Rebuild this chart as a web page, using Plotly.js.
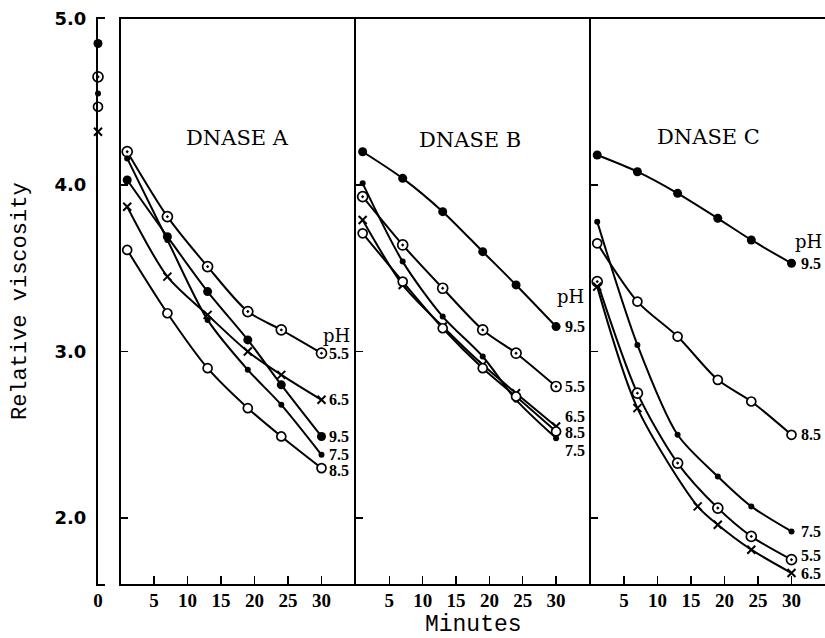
<!DOCTYPE html>
<html>
<head>
<meta charset="utf-8">
<script src="https://cdn.plot.ly/plotly-3.0.1.min.js"></script>
<style>html,body{margin:0;padding:0;background:#fff;}#chart{width:825px;height:638px;}</style>
</head>
<body>
<div id="chart"></div>
<script>
// ---------- data ----------
const phLevels = ['5.5', '6.5', '7.5', '8.5', '9.5'];
const times = [1, 7, 13, 19, 24, 30];
const timesC65 = [1, 7, 16, 19, 24, 30];

// viscosity at time 0 (left axis)
const start55 = 4.65;
const start65 = 4.32;
const start75 = 4.55;
const start85 = 4.47;
const start95 = 4.85;

// DNASE A
const a55 = [4.20, 3.81, 3.51, 3.24, 3.13, 2.99];
const a65 = [3.87, 3.45, 3.22, 3.00, 2.86, 2.71];
const a75 = [4.16, 3.67, 3.19, 2.89, 2.68, 2.38];
const a85 = [3.61, 3.23, 2.90, 2.66, 2.49, 2.30];
const a95 = [4.03, 3.69, 3.36, 3.07, 2.80, 2.49];

// DNASE B
const b55 = [3.93, 3.64, 3.38, 3.13, 2.99, 2.79];
const b65 = [3.79, 3.40, 3.15, 2.92, 2.75, 2.55];
const b75 = [4.01, 3.54, 3.21, 2.97, 2.71, 2.48];
const b85 = [3.71, 3.42, 3.14, 2.90, 2.73, 2.52];
const b95 = [4.20, 4.04, 3.84, 3.60, 3.40, 3.15];

// DNASE C
const c55 = [3.42, 2.75, 2.33, 2.06, 1.89, 1.75];
const c65 = [3.39, 2.66, 2.07, 1.96, 1.81, 1.67];
const c75 = [3.78, 3.04, 2.50, 2.25, 2.07, 1.92];
const c85 = [3.65, 3.30, 3.09, 2.83, 2.70, 2.50];
const c95 = [4.18, 4.08, 3.95, 3.80, 3.67, 3.53];

const panelTitles = ['DNASE A', 'DNASE B', 'DNASE C'];
const xTicks = [5, 10, 15, 20, 25, 30];
const yTicks = [2, 3, 4, 5];
const yTickText = ['2.0', '3.0', '4.0', '5.0'];

// ---------- styles ----------
const markerStyle = {
  '5.5': {symbol: 'circle-dot', size: 10, color: '#fff', line: {color: '#000', width: 1.7}},
  '6.5': {symbol: 'x-thin', size: 8, color: '#000', line: {color: '#000', width: 2}},
  '7.5': {symbol: 'circle', size: 6, color: '#000', line: {color: '#000', width: 0}},
  '8.5': {symbol: 'circle', size: 9, color: '#fff', line: {color: '#000', width: 1.7}},
  '9.5': {symbol: 'circle', size: 9, color: '#000', line: {color: '#000', width: 0}}
};

const W = 825, H = 638;
const px = v => v / W;
const py = v => 1 - v / H;
const yDomain = [py(584), py(18.5)];
const yRange = [1.604, 5.0];

const panels = [
  {xa: 'x2', ya: 'y2', dom: [px(120.5), px(356)], range: [0, 35.15],
   series: {'5.5': [times, a55], '6.5': [times, a65], '7.5': [times, a75], '8.5': [times, a85], '9.5': [times, a95]},
   lblShift: {'5.5': [6, 0], '6.5': [6, 0], '7.5': [6, 0], '8.5': [6, -2], '9.5': [6, 0]},
   phLabel: {key: '5.5', xs: 0, ys: 18}, title: [17.5, 4.28]},
  {xa: 'x3', ya: 'y3', dom: [px(356), px(590.5)], range: [0, 35.16],
   series: {'5.5': [times, b55], '6.5': [times, b65], '7.5': [times, b75], '8.5': [times, b85], '9.5': [times, b95]},
   lblShift: {'5.5': [8, 0], '6.5': [8, 10], '7.5': [8, -12], '8.5': [8, -1], '9.5': [8, 0]},
   phLabel: {key: '9.5', xs: 0, ys: 30}, title: [17.1, 4.27]},
  {xa: 'x4', ya: 'y4', dom: [px(590.5), 1], range: [0, 35.0],
   series: {'5.5': [times, c55], '6.5': [timesC65, c65], '7.5': [times, c75], '8.5': [times, c85], '9.5': [times, c95]},
   lblShift: {'5.5': [8, 4], '6.5': [8, 0], '7.5': [8, 0], '8.5': [8, 0], '9.5': [8, 0]},
   phLabel: {key: '9.5', xs: 2, ys: 22}, title: [17.6, 4.29]}
];

const starts = {'5.5': start55, '6.5': start65, '7.5': start75, '8.5': start85, '9.5': start95};

const traces = [];
const annotations = [];

// left axis: values at time 0
phLevels.forEach(ph => {
  traces.push({
    x: [0], y: [starts[ph]], xaxis: 'x', yaxis: 'y', type: 'scatter', mode: 'markers',
    marker: markerStyle[ph], cliponaxis: false, showlegend: false, hoverinfo: 'skip'
  });
});

panels.forEach((p, i) => {
  phLevels.forEach(ph => {
    const [xs, ys] = p.series[ph];
    traces.push({
      x: xs, y: ys, xaxis: p.xa, yaxis: p.ya, type: 'scatter', mode: 'lines+markers',
      line: {color: '#000', width: 2, shape: 'spline', smoothing: 0.8},
      marker: markerStyle[ph], cliponaxis: false, showlegend: false, hoverinfo: 'skip'
    });
    const sh = p.lblShift[ph];
    annotations.push({
      xref: p.xa, yref: p.ya, x: xs[xs.length - 1], y: ys[ys.length - 1],
      text: ph, showarrow: false, xanchor: 'left', yanchor: 'middle',
      xshift: sh[0], yshift: sh[1], borderpad: 0,
      font: {family: 'Liberation Serif', size: 16, color: '#000', weight: 'bold'}
    });
  });
  const k = p.phLabel.key;
  const [lx, ly] = p.series[k];
  annotations.push({
    xref: p.xa, yref: p.ya, x: lx[lx.length - 1], y: ly[ly.length - 1],
    text: 'pH', showarrow: false, xanchor: 'left', yanchor: 'middle',
    xshift: p.phLabel.xs, yshift: p.phLabel.ys, borderpad: 0,
    font: {family: 'DejaVu Serif', size: 18, color: '#000'}
  });
  annotations.push({
    xref: p.xa, yref: p.ya, x: p.title[0], y: p.title[1],
    text: panelTitles[i], showarrow: false, xanchor: 'center', yanchor: 'middle',
    font: {family: 'DejaVu Serif', size: 21, color: '#000'}
  });
});

const tickFontX = {family: 'Liberation Serif', size: 19, color: '#000', weight: 'bold'};

const layout = {
  width: W, height: H,
  margin: {l: 0, r: 0, t: 0, b: 0},
  paper_bgcolor: '#fff', plot_bgcolor: 'rgba(0,0,0,0)',
  showlegend: false, hovermode: false,
  annotations: annotations,
  xaxis: {
    domain: [px(98), px(105)], range: [0, 1], anchor: 'y',
    showline: true, linecolor: '#000', linewidth: 2, mirror: true,
    showgrid: false, zeroline: false, ticks: '',
    tickvals: [0], ticktext: ['0'], tickfont: tickFontX, ticklabelstandoff: -2,
    fixedrange: true
  },
  yaxis: {
    domain: yDomain, range: yRange, anchor: 'x',
    showline: true, linecolor: '#000', linewidth: 2,
    showgrid: false, zeroline: false, ticks: '',
    tickvals: yTicks, ticktext: yTickText, ticklabelstandoff: 6,
    tickfont: {family: 'DejaVu Sans', size: 18, color: '#000', weight: 'bold'},
    title: {text: 'Relative viscosity', standoff: 22,
            font: {family: 'Liberation Mono', size: 22, color: '#000'}},
    fixedrange: true
  }
};

panels.forEach((p, i) => {
  const n = i + 2;
  layout['xaxis' + n] = {
    domain: p.dom, range: p.range, anchor: 'y' + n,
    showline: true, linecolor: '#000', linewidth: 2, mirror: true,
    showgrid: false, zeroline: false,
    ticks: 'inside', ticklen: 8, tickwidth: 1.5, tickcolor: '#000',
    tickvals: xTicks, tickfont: tickFontX, ticklabelstandoff: -2,
    fixedrange: true
  };
  layout['yaxis' + n] = {
    domain: yDomain, range: yRange, anchor: 'x' + n,
    showline: true, linecolor: '#000', linewidth: 2, mirror: false,
    showgrid: false, zeroline: false,
    ticks: 'inside', ticklen: 7, tickwidth: 1.5, tickcolor: '#000',
    tickvals: [2, 3, 4], showticklabels: false,
    fixedrange: true
  };
});
layout.xaxis3.title = {text: 'Minutes', standoff: 16,
  font: {family: 'Liberation Mono', size: 23, color: '#000'}};

Plotly.newPlot('chart', traces, layout, {displayModeBar: false, staticPlot: true});
</script>
</body>
</html>
